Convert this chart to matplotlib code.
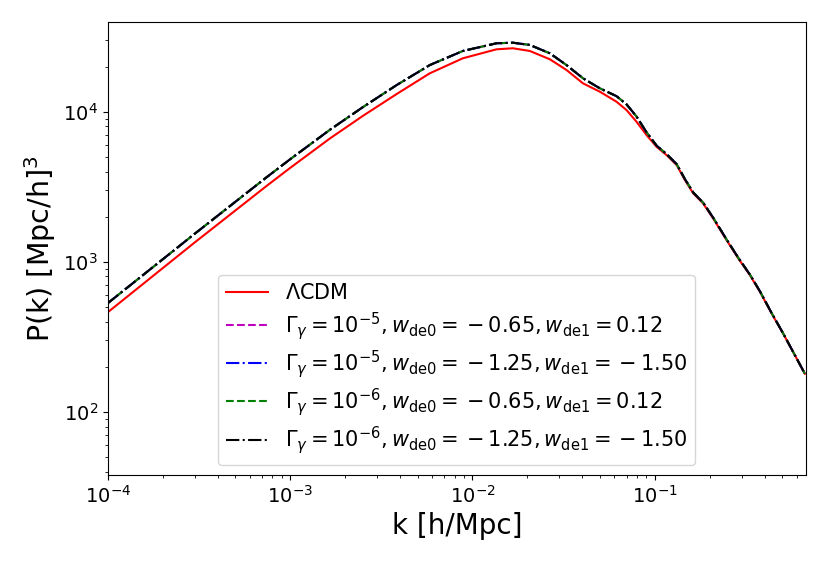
import numpy as np
import matplotlib
matplotlib.use('Agg')
import matplotlib.pyplot as plt

# wavenumber k [h/Mpc]
k = [1.0e-4, 3.0e-4, 7.44e-4, 1.0e-3, 1.652e-3, 2.51e-3, 3.84e-3, 5.83e-3,
     8.85e-3, 1.354e-2, 1.667e-2, 2.065e-2, 2.661e-2, 3.28e-2, 4.04e-2,
     5.00e-2, 6.17e-2, 7.00e-2, 7.94e-2, 9.01e-2, 0.1023, 0.1161, 0.1318,
     0.1463, 0.1625, 0.1842, 0.2090, 0.2476, 0.2870, 0.3327, 0.3776,
     0.4375, 0.5058, 0.5741, 0.6653]

# LCDM
p_lcdm = [462, 1349, 3211, 4226, 6639, 9400, 13130, 18030,
          22700, 26060, 26480, 25400, 22350, 18970, 15460,
          13600, 11660, 10260, 8580, 6995, 5843, 5140, 4416,
          3508, 2858, 2449, 1946, 1396, 1055, 815, 631,
          453, 333, 251, 180]

# interacting dark energy models (curves overlap almost exactly)
p_g5_a = [531, 1541, 3668, 4827, 7583, 10750, 15060, 20460,
          25400, 28580, 28840, 27860, 24490, 20460, 16700,
          14320, 12700, 11200, 9300, 7300, 5950, 5220, 4480,
          3560, 2900, 2480, 1970, 1410, 1065, 822, 636,
          456, 334, 251, 180]
p_g5_b = list(p_g5_a)
p_g6_a = list(p_g5_a)
p_g6_b = list(p_g5_a)

labels = [r'$\Lambda$CDM',
          r'$\Gamma_\gamma=10^{-5}, w_{\rm de0}={}-0.65, w_{\rm de1}=0.12$',
          r'$\Gamma_\gamma=10^{-5}, w_{\rm de0}={}-1.25, w_{\rm de1}={}-1.50$',
          r'$\Gamma_\gamma=10^{-6}, w_{\rm de0}={}-0.65, w_{\rm de1}=0.12$',
          r'$\Gamma_\gamma=10^{-6}, w_{\rm de0}={}-1.25, w_{\rm de1}={}-1.50$']

fig = plt.figure(figsize=(8.29, 5.65), dpi=100)
ax = fig.add_axes([0.130, 0.159, 0.842, 0.802])

ax.plot(k, p_lcdm, color='r', ls='-', label=labels[0])
ax.plot(k, p_g5_a, color='m', ls='--', label=labels[1])
ax.plot(k, p_g5_b, color='b', ls='-.', label=labels[2])
ax.plot(k, p_g6_a, color='g', ls='--', label=labels[3])
ax.plot(k, p_g6_b, color='k', ls='-.', label=labels[4])

ax.set_xscale('log')
ax.set_yscale('log')
ax.set_xlim(1e-4, 0.673)
ax.set_ylim(38, 3.96e4)
ax.set_xlabel('k [h/Mpc]', fontsize=20)
ax.set_ylabel(r'P(k) [Mpc/h]$^3$', fontsize=20.5)
ax.tick_params(labelsize=14)
ax.legend(loc='lower center', fontsize=15, labelspacing=0.3)

fig.savefig('out.png', dpi=100)
